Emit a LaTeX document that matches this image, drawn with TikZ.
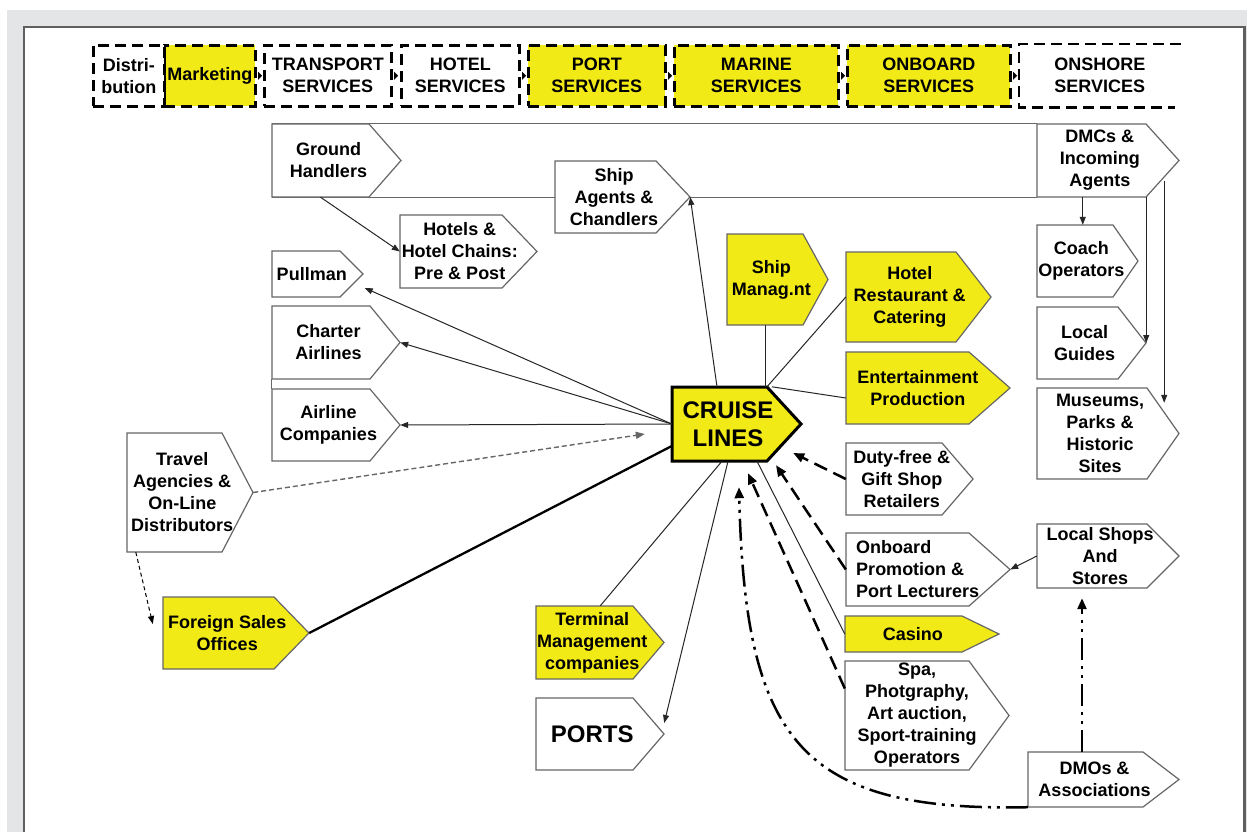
\documentclass[tikz,border=0pt]{standalone}
\usepackage{fontspec}
\setmainfont{Liberation Sans}
\usetikzlibrary{arrows.meta,calc}
\definecolor{yel}{RGB}{242,234,22}
\definecolor{pagegray}{RGB}{228,229,230}
\definecolor{bordergray}{RGB}{95,95,95}
\pgfdeclarelayer{back}\pgfdeclarelayer{bg}\pgfsetlayers{back,bg,main}
\tikzset{
 txt/.style={inner sep=0pt, align=center, font=\fontsize{18}{22}\selectfont\bfseries},
 boxline/.style={draw=black!60, line width=1.2pt, line join=miter},
 W/.style={fill=white}, Y/.style={fill=yel},
 barbox/.style={draw=black, line width=2.6pt, dash pattern=on 11pt off 6pt, minimum height=61pt, inner sep=0pt, anchor=north west, align=center, font=\fontsize{18}{22}\selectfont\bfseries},
 bardash/.style={draw=black, line width=2.6pt, dash pattern=on 11pt off 6pt},
 conn/.style={draw=black!85, line width=1pt},
 arr/.style={conn, -{Triangle[length=8pt,width=6pt]}},
 bigdash/.style={draw=black, line width=2.5pt, dash pattern=on 14pt off 7pt, -{Triangle[length=11pt,width=9pt]}},
 dashdot/.style={draw=black, line width=2.5pt, dash pattern=on 22pt off 6pt on 3pt off 6pt on 3pt off 6pt, -{Triangle[length=11pt,width=9pt]}},
 tadash/.style={draw=black!60, line width=1.4pt, dash pattern=on 5pt off 3pt, -{Triangle[length=9pt,width=7pt]}},
 smalldash/.style={draw=black, line width=1pt, dash pattern=on 4pt off 3pt, -{Triangle[length=8pt,width=6pt]}},
 thickline/.style={draw=black, line width=2.3pt},
}
% [node opts]{name}{x}{y}{w}{h}{tip}{path style}{text}
\newcommand{\chev}[9][]{%
 \node[txt,#1,minimum width={#5+#7/2},minimum height=#6,anchor=center] (#2) at ({#3+(#5+#7/2)/2},{#4+#6/2}) {#9};
 \begin{pgfonlayer}{bg}
 \path[boxline,#8] (#3,#4) -- ++(#5,0) -- ++(#7,#6/2) -- ++(-#7,#6/2) -- ++(-#5,0) -- cycle;
 \end{pgfonlayer}
 \coordinate (#2-tip) at ($(#2.east)+(#7/2,0)$);
}
\begin{document}
\begin{tikzpicture}[x=1pt,y=-1pt]
\useasboundingbox (0,0) rectangle (1247,832);
\begin{pgfonlayer}{back}
\fill[white] (0,0) rectangle (1247,832);
\fill[pagegray] (7,10) rectangle (1247,832);
\fill[white] (24,27) rectangle (1244.5,832);
\draw[bordergray, line width=2.3pt] (24,834) -- (24,27) -- (1244.5,27) -- (1244.5,834);
\end{pgfonlayer}

% ---- top bar
\node[barbox, fill=yel, minimum width=91pt] (mkt) at (163,44) {Marketing};
\node[barbox, fill=white, minimum width=71pt] (dis) at (92,44) {Distri-\\bution};
\node[barbox, fill=white, minimum width=127pt] (trs) at (263,44) {TRANSPORT\\SERVICES};
\node[barbox, fill=white, minimum width=118pt] (hts) at (400,44) {HOTEL\\SERVICES};
\node[barbox, fill=yel, minimum width=137pt] (pts) at (527,44) {PORT\\SERVICES};
\node[barbox, fill=yel, minimum width=164pt] (mar) at (673,44) {MARINE\\SERVICES};
\node[barbox, fill=yel, minimum width=163pt] (onb) at (846,44) {ONBOARD\\SERVICES};
\node[barbox, draw=none, minimum width=159pt] (ons) at (1019,44) {ONSHORE\\SERVICES};
\draw[bardash] (ons.north east) -- (ons.north west) -- (ons.south west) -- ([xshift=-6pt]ons.south east);
\foreach \n in {mkt,trs,hts,pts,mar,onb}
  \fill ($(\n.east)+(1.5,-4)$) -- ++(4,4) -- ++(-4,4) -- cycle;

% ---- boxes
\chev{gh}{272}{124}{97}{73}{32}{W}{Ground\\Handlers}
\chev{hot}{400}{215}{102}{73}{35}{W}{Hotels \&\\Hotel Chains:\\Pre \& Post}
\chev{pull}{272}{251}{68}{46}{23}{W}{Pullman}
\chev{sa}{555}{161}{101}{72}{34}{W}{Ship\\Agents \&\\Chandlers}
\chev{dmc}{1037}{124}{109}{73}{33}{W}{DMCs \&\\Incoming\\Agents}
\chev{coach}{1037}{225}{76}{72}{25}{W}{Coach\\Operators}
\chev{lg}{1037}{307}{81}{72}{28}{W}{Local\\Guides}
\chev{mus}{1037}{388}{110}{91}{32}{W}{Museums,\\Parks \&\\Historic\\Sites}
\chev{ls}{1037}{524}{110}{64}{32}{W}{Local Shops\\And\\Stores}
\chev{sm}{727}{234}{76}{91}{25}{Y}{Ship\\Manag.nt}
\chev{hr}{846}{252}{110}{90}{35}{Y}{Hotel\\Restaurant \&\\Catering}
\chev{ent}{846}{352}{123}{72}{41}{Y}{Entertainment\\Production}
\chev[font=\fontsize{24}{28}\selectfont\bfseries]{cruise}{672}{387}{95}{74}{34}{Y, draw=black, line width=3pt}{CRUISE\\LINES}
\chev{duty}{846}{443}{96}{72}{31}{W}{Duty-free \&\\Gift Shop\\Retailers}
\chev[align=left]{ob}{846}{533}{123}{73}{41}{W}{Onboard\\Promotion \&\\Port Lecturers}
\chev{cas}{845}{616}{117}{36}{37}{Y}{Casino}
\chev{spa}{845}{661}{124}{109}{40}{W}{Spa,\\Photgraphy,\\Art auction,\\Sport-training\\Operators}
\chev{dmo}{1028}{752}{115}{55}{36}{W}{DMOs \&\\Associations}
\chev{term}{536}{606}{97}{73}{31}{Y}{Terminal\\Management\\companies}
\chev[font=\fontsize{24}{28}\selectfont\bfseries]{ports}{536}{698}{97}{72}{31}{W}{PORTS}
\chev{ch}{272}{306}{98}{73}{30}{W}{Charter\\Airlines}
\chev{al}{272}{389}{98}{72}{30}{W}{Airline\\Companies}
\chev{ta}{127}{433}{95}{119}{31}{W}{Travel\\Agencies \&\\On-Line\\Distributors}
\chev{fs}{163}{597}{111}{72}{35}{Y}{Foreign Sales\\Offices}

% ---- frame lines
\begin{pgfonlayer}{back}
\draw[boxline] (gh.north west) -- (dmc.north west);
\draw[boxline] (gh.south west) -- (dmc.south west);
\draw[boxline] (ch.south west) -- (al.north west);
\end{pgfonlayer}

% ---- connectors
\draw[arr] ([xshift=-8pt]gh.south) -- (hot.west);
\draw[arr] ([xshift=-11pt]cruise.north) -- (sa-tip);
\draw[conn] ([xshift=-6pt]sm.south) -- ([xshift=-6pt]sm.south |- cruise.north);
\draw[conn] (hr.west) -- ([xshift=39pt]cruise.north);
\draw[conn] ($(ent.west)+(0,10)$) -- ([xshift=44pt]cruise.north);
\draw[arr] (cruise.west) -- ($(pull.east)+(13,14)$);
\draw[arr] (cruise.west) -- (ch-tip);
\draw[arr] (cruise.west) -- (al-tip);
\draw[tadash] (ta-tip) -- ($(cruise.west)+(-27,10)$);
\draw[smalldash] ([xshift=9pt]ta.south west) -- ($(fs.west)+(-10,-9)$);
\draw[thickline] (fs-tip) -- ($(cruise.west)+(0,22)$);
\draw[conn] ([xshift=-6pt]cruise.south) -- ([xshift=8pt]term.north);
\draw[arr] (cruise.south) -- ($(ports.east)+(15.5,-11)$);
\draw[conn] ([xshift=29pt]cruise.south) -- (cas.west);
\draw[bigdash] (duty.west) -- ($(cruise.east)+(9,29)$);
\draw[bigdash] (ob.west) -- ($(cruise.south)+(48,4)$);
\draw[bigdash] ($(spa.west)+(0,-27)$) -- ($(cruise.south)+(20,12)$);
\draw[dashdot] (dmo.south west) .. controls (800,812) and (745,740) .. ($(cruise.south)+(11,26)$);
\draw[dashdot] ([xshift=-12.5pt]dmo.north) -- ($(ls.south)+(-18,10)$);
\draw[arr] (ls.west) -- (ob-tip);
\draw[arr] ([xshift=-17pt]dmc.south) -- ([xshift=-17pt]dmc.south |- coach.north);
\draw[arr] (lg-tip |- dmc.south) -- (lg-tip);
\draw[arr] ($(dmc.east)+(1.5,20)$) -- ($(mus.north east)+(1,15)$);
\end{tikzpicture}
\end{document}
